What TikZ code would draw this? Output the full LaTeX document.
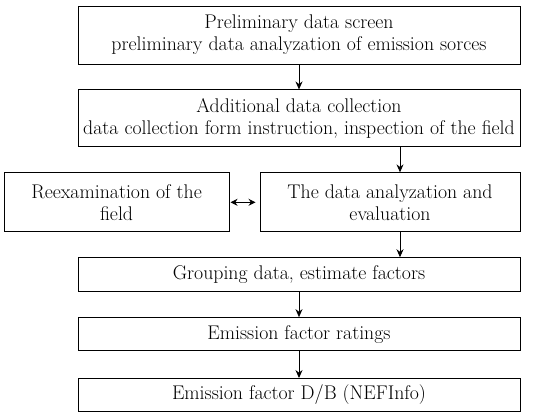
\documentclass[tikz,border=0pt]{standalone}
\usetikzlibrary{positioning, arrows.meta, calc}
\tikzset{
  widebox/.style={rectangle, minimum width=442pt, text centered, draw=black, line width=0.9pt, inner sep=2pt},
  sidebox/.style={rectangle, minimum height=59pt, align=center, draw=black, line width=0.9pt, inner sep=2pt},
  arrow/.style={line width=0.9pt,-{Stealth[length=8pt,width=7pt]}},
  twoway/.style={line width=0.9pt,{Stealth[length=7pt,width=7pt]}-{Stealth[length=7pt,width=7pt]}}
}
\begin{document}
\begin{tikzpicture}[
    x=1pt, y=1pt,
    node distance=25pt and 30pt,
    every node/.style={font=\fontsize{19.8}{22}\selectfont}
]
    \useasboundingbox (0,0) rectangle (544,-414);
    \node (screen) [widebox, minimum height=58pt, align=center] at (299,-35) {Preliminary data screen\\ preliminary data analyzation of emission sorces};
    \node (collect) [widebox, minimum height=57pt, align=center, below=of screen] {Additional data collection\\ data collection form instruction, inspection of the field};
    \node (analyze) [sidebox, minimum width=260pt, below=of collect.south east, anchor=north east] {The data analyzation and\\ evaluation};
    \node (reexam) [sidebox, minimum width=225pt, left=of analyze] {Reexamination of the\\ field};
    \coordinate (mid) at (collect.south |- analyze.south);
    \node (group) [widebox, minimum height=34pt, below=of mid] {Grouping data, estimate factors};
    \node (rating) [widebox, minimum height=33pt, below=of group] {Emission factor ratings};
    \node (nefinfo) [widebox, minimum height=33pt, below=27pt of rating] {Emission factor D/B (NEFInfo)};
    \coordinate (col) at (400,0);

    \draw [arrow] (screen) -- (collect);
    \draw [arrow] (collect.south -| col) -- (analyze.north -| col);
    \draw [twoway, shorten <=1pt, shorten >=4pt] (reexam) -- (analyze);
    \draw [arrow] (analyze.south -| col) -- (group.north -| col);
    \draw [arrow] (group) -- (rating);
    \draw [arrow] (rating) -- (nefinfo);
\end{tikzpicture}
\end{document}
